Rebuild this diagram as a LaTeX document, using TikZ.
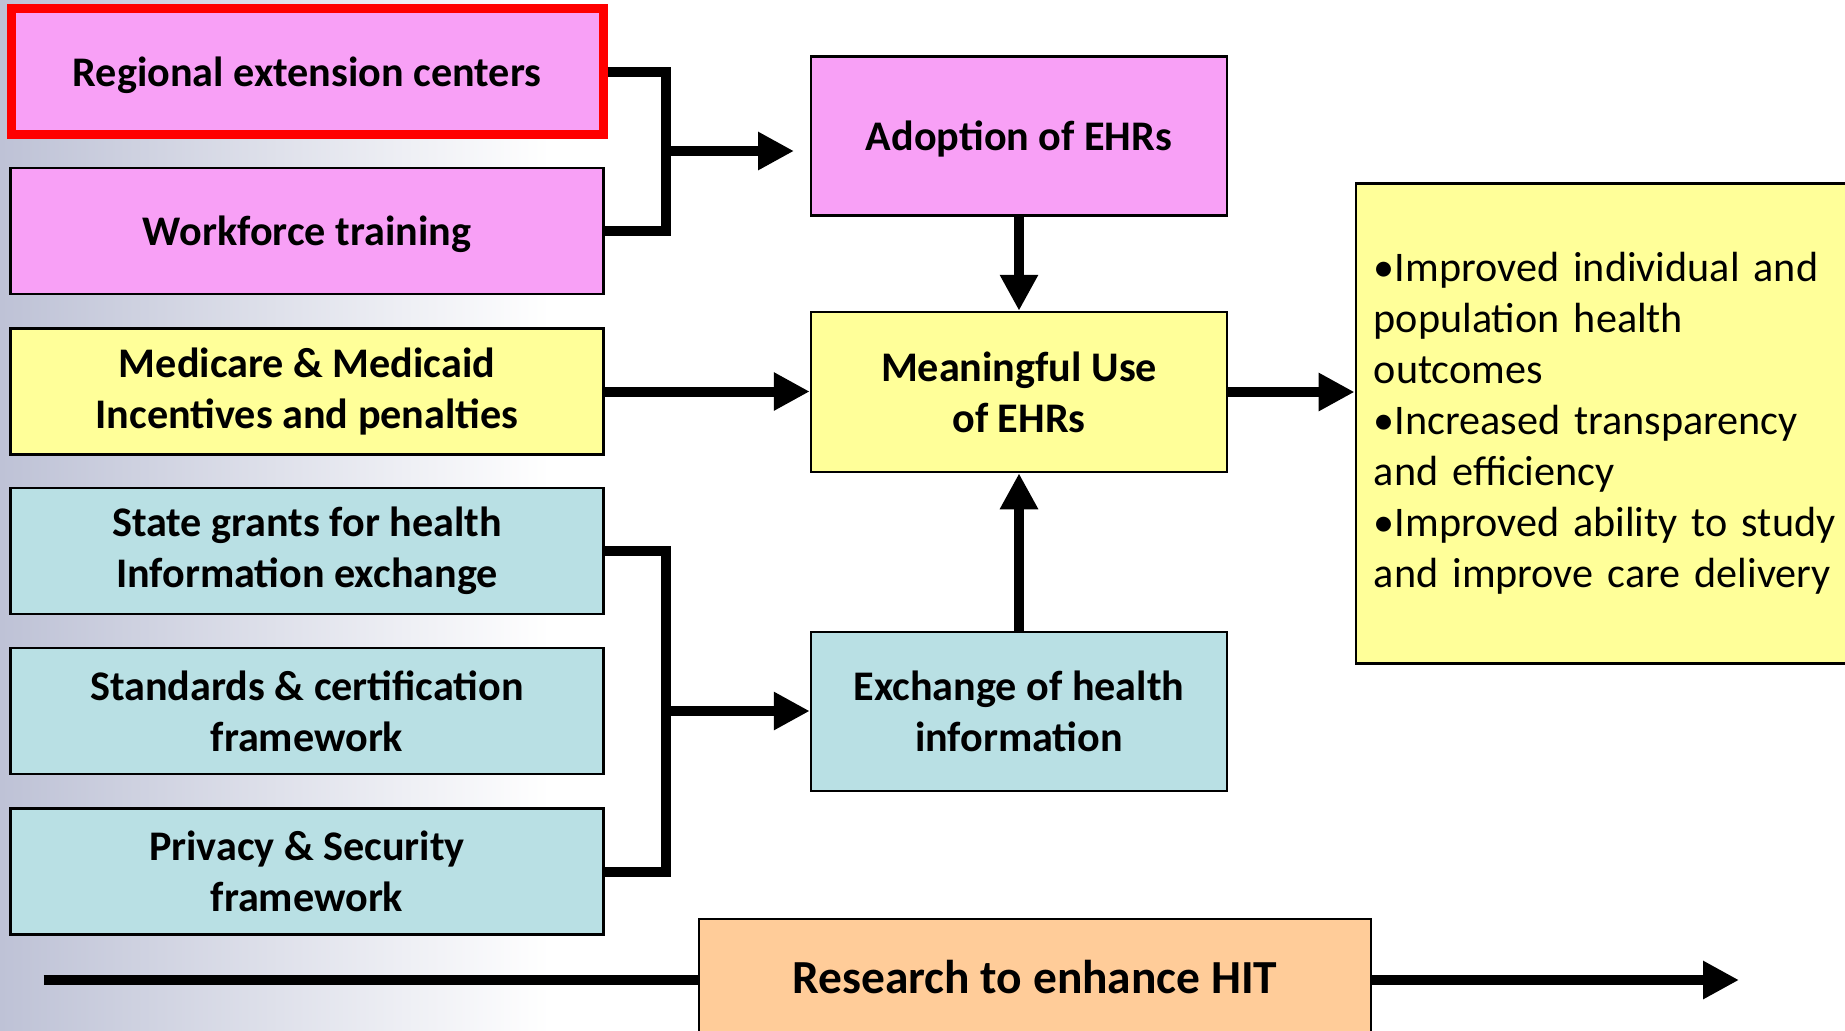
\documentclass[tikz,border=0pt]{standalone}
\usepackage{fontspec}
\setmainfont{Carlito}
\usetikzlibrary{arrows.meta,backgrounds}
\definecolor{pinkbox}{RGB}{248,160,246}
\definecolor{yellowbox}{RGB}{255,255,153}
\definecolor{bluebox}{RGB}{185,224,228}
\definecolor{orangebox}{RGB}{255,204,153}
\definecolor{bgshade}{RGB}{190,194,214}
\newcommand{\linkwidth}{1mm}
\newcommand{\boxfont}{\fontsize{12}{14.5}\selectfont}

\tikzset{
  box/.style={draw=black, line width=0.25mm, minimum width=5.93cm, minimum height=1.26cm,
    align=center, inner sep=0pt, font=\boxfont\bfseries},
  onerow/.style={text depth=0pt},
  midbox/.style={box, minimum width=4.16cm, minimum height=1.59cm},
  link/.style={line width=\linkwidth, line join=miter},
  arrow/.style={link, -{Triangle[length=3.6mm,width=3.6mm]}}
}

\begin{document}
\begin{tikzpicture}
\useasboundingbox (0,0) rectangle (18.45,-10.30);
\shade[left color=bgshade, right color=white] (0,0) rectangle (5.5,-10.30);

% left column
\node[box, onerow, fill=pinkbox, draw=red, line width=0.9mm, minimum width=5.92cm] (rec) at (3.07,-0.715) {Regional extension centers};
\node[box, onerow, fill=pinkbox] (wf) at (3.07,-2.31) {Workforce training};
\node[box, fill=yellowbox] (mm) at (3.07,-3.915) {Medicare \& Medicaid\\Incentives and penalties};
\node[box, fill=bluebox] (sg) at (3.07,-5.51) {State grants for health\\Information exchange};
\node[box, fill=bluebox] (sc) at (3.07,-7.11) {Standards \& certification\\framework};
\node[box, fill=bluebox] (ps) at (3.07,-8.715) {Privacy \& Security\\framework};

% middle column
\node[midbox, onerow, fill=pinkbox] (ad) at (10.19,-1.358) {Adoption of EHRs};
\node[midbox, fill=yellowbox, minimum height=1.6cm] (mu) at (10.19,-3.92) {Meaningful Use\\of EHRs};
\node[midbox, fill=bluebox] (ex) at (10.19,-7.115) {Exchange of health\\information};

% outcomes
\node[box, fill=yellowbox, font=\boxfont, align=left, inner xsep=0.18cm, text width=4.78cm,
  minimum width=5.14cm, minimum height=4.8cm] (out) at (16.128,-4.236)
  {\textbullet Improved individual and\\population health\\outcomes\\\textbullet Increased transparency\\and efficiency\\\textbullet Improved ability to study\\and improve care delivery};

% research
\node[box, fill=orangebox, font=\fontsize{13.5}{16}\selectfont\bfseries, minimum width=6.72cm,
  minimum height=1.16cm] (res) at (10.35,-9.77) {Research to enhance HIT};

% connectors
\coordinate (b1) at (6.66,-1.51);
\coordinate (a1) at (7.94,-1.51);
\coordinate (b2) at (6.66,-7.11);
\coordinate (rstart) at (0.435,-9.80);
\coordinate (rend) at (17.39,-9.80);

\draw[link] (rec.east) -| (b1) |- (wf.east);
\draw[arrow] (b1) -- (a1);
\draw[arrow] (mm.east) -- (mm.east -| mu.west);
\draw[arrow] (ad) -- (mu);
\draw[arrow] (mu.east) -- (mu.east -| out.west);
\draw[arrow] (ex) -- (mu);
\draw[link] (sg.east) -| (b2) |- (ps.east);
\draw[arrow] (b2) -- (b2 -| ex.west);
\draw[link] (rstart) -- (rstart -| res.west);
\draw[arrow] (rstart -| res.east) -- (rend);
\end{tikzpicture}
\end{document}
